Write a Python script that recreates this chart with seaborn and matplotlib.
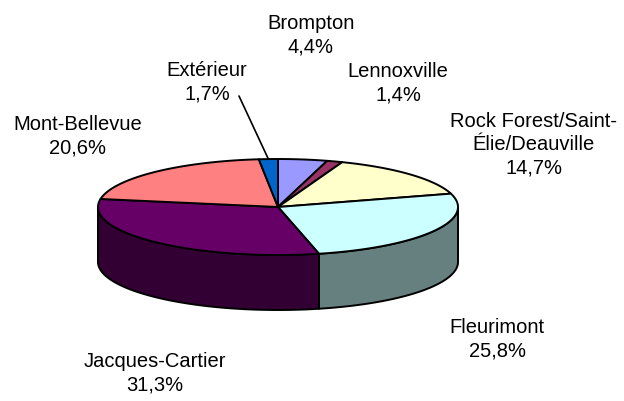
import numpy as np
import matplotlib
matplotlib.use("Agg")
import matplotlib.pyplot as plt
from matplotlib.patches import Polygon
import seaborn as sns

# data, clockwise from 12 o'clock
secteurs = ["Brompton", "Lennoxville", "Rock Forest/Saint-\nÉlie/Deauville", "Fleurimont",
            "Jacques-Cartier", "Mont-Bellevue", "Extérieur"]
pourcentages = [4.4, 1.4, 14.7, 25.8, 31.3, 20.6, 1.7]
couleurs = ["#9999FF", "#993366", "#FFFFCC", "#CCFFFF", "#660066", "#FF8080", "#0066CC"]

# label anchors (pixels)
label_pos = [(311, 35), (398, 83), (534, 145), (497, 339), (155, 373), (78, 136), (207, 82)]

sns.set_theme(style="white")
plt.rcParams["font.family"] = ["Liberation Sans", "DejaVu Sans"]

W, H = 624, 401
fig = plt.figure(figsize=(W / 100, H / 100), dpi=100)
ax = fig.add_axes([0, 0, 1, 1])
ax.set_xlim(0, W)
ax.set_ylim(H, 0)
ax.axis("off")

cx, cy, rx, ry, depth = 278, 207, 180, 48, 55
lw = 1.4


def arc(t0, t1, dy=0, n=80):
    t = np.radians(np.linspace(t0, t1, n))
    return np.column_stack([cx + rx * np.sin(t), cy - ry * np.cos(t) + dy])


vals = np.array(pourcentages)
bounds = np.concatenate([[0], np.cumsum(vals)]) / vals.sum() * 360
palette = sns.color_palette(couleurs)

# side walls (front half only: 90..270 deg)
for i, col in enumerate(palette):
    a, b = max(bounds[i], 90), min(bounds[i + 1], 270)
    if a >= b:
        continue
    side = np.array(col) * 0.5
    top = arc(a, b)
    bot = arc(b, a, dy=depth)
    ax.add_patch(Polygon(np.vstack([top, bot]), closed=True, facecolor=side,
                         edgecolor="black", lw=lw, joinstyle="round"))

# top face
for i, col in enumerate(palette):
    pts = np.vstack([[cx, cy], arc(bounds[i], bounds[i + 1])])
    ax.add_patch(Polygon(pts, closed=True, facecolor=col, edgecolor="black",
                         lw=lw, joinstyle="round"))

# labels
for name, p, (lx, ly) in zip(secteurs, pourcentages, label_pos):
    txt = f"{name}\n{p:.1f}%".replace(".", ",")
    ax.text(lx, ly, txt, ha="center", va="center", multialignment="center",
            fontsize=14.5, linespacing=1.3, color="black")

# leader line for Extérieur
mid = np.radians((bounds[-2] + bounds[-1]) / 2)
ax.plot([239, cx + rx * np.sin(mid)], [96, cy - ry * np.cos(mid)], color="black", lw=1.2)

fig.savefig("out.png", dpi=100)
